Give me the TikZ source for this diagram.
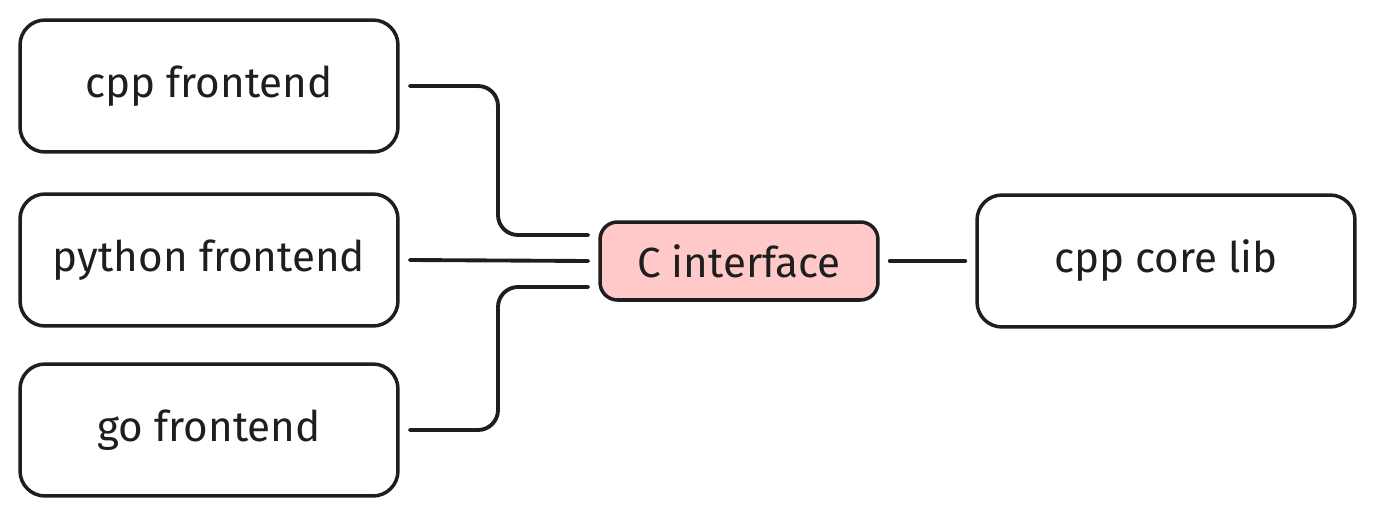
\documentclass[tikz,border=0pt]{standalone}
\usepackage{fontspec}
\setmainfont{Fira Sans}
\usetikzlibrary{calc}
\definecolor{ink}{HTML}{1E1E1E}
\definecolor{pinkfill}{HTML}{FFC9C9}
\tikzset{
  box/.style={draw=ink, line width=2pt, rounded corners=0.5cm, minimum width=7.56cm, minimum height=2.64cm, font=\fontsize{24}{29}\selectfont, text=ink},
  cbox/.style={box, fill=pinkfill, minimum width=5.56cm, minimum height=1.56cm, rounded corners=0.35cm},
  wire/.style={draw=ink, line width=2.2pt, rounded corners=0.4cm, line cap=round}
}
\begin{document}
\begin{tikzpicture}[x=0.02cm, y=-0.02cm]
\useasboundingbox (0,0) rectangle (1375,517);
\node[box] (cpp) at (209,86) {cpp frontend};
\node[box] (py) at (209,260) {python frontend};
\node[box] (go) at (209,430) {go frontend};
\node[cbox] (ci) at (739,261) {C interface};
\node[box] (core) at (1166,261) {cpp core lib};
\coordinate (a1) at ($(cpp.east)+(10,0)$);
\coordinate (a2) at ($(ci.west)+(-10,-26)$);
\coordinate (b1) at ($(py.east)+(10,0)$);
\coordinate (b2) at ($(ci.west)+(-10,0)$);
\coordinate (c1) at ($(go.east)+(10,0)$);
\coordinate (c2) at ($(ci.west)+(-10,26)$);
\coordinate (d1) at ($(ci.east)+(10,0)$);
\coordinate (d2) at ($(core.west)+(-10,0)$);
\draw[wire] (a1) -- (498,86) -- (498,235) -- (a2);
\draw[wire] (b1) -- (b2);
\draw[wire] (c1) -- (498,430) -- (498,287) -- (c2);
\draw[wire] (d1) -- (d2);
\end{tikzpicture}
\end{document}
